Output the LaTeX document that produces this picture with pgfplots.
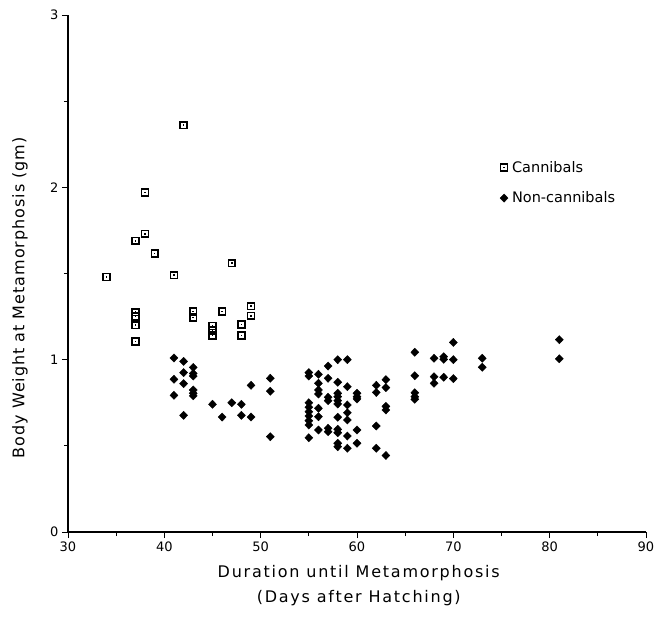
\documentclass[border=0pt]{standalone}
\usepackage{fontspec}
\setmainfont{DejaVu Sans}
\newfontfamily\labfont[LetterSpace=6]{DejaVu Sans}
\newfontfamily\xlabfont[LetterSpace=11]{DejaVu Sans}
\usepackage{pgfplots}
\pgfplotsset{compat=1.18}
\usepackage{pgfplotstable}

\pgfdeclareplotmark{sqdot}{%
  \pgfsetlinewidth{1.6pt}%
  \pgfpathrectangle{\pgfpoint{-\pgfplotmarksize}{-\pgfplotmarksize}}{\pgfpoint{2\pgfplotmarksize}{2\pgfplotmarksize}}%
  \pgfusepathqstroke
  \pgfpathrectangle{\pgfpoint{-0.8pt}{-0.8pt}}{\pgfpoint{1.6pt}{1.6pt}}%
  \pgfusepathqfill
}

\pgfplotstableread{
x y
42 2.36
38 1.97
38 1.73
37 1.69
39 1.615
34 1.48
41 1.49
47 1.56
49 1.31
49 1.255
37 1.275
37 1.25
43 1.28
43 1.245
46 1.28
37 1.20
45 1.195
45 1.17
45 1.14
48 1.205
48 1.14
37 1.105
}\cannibals

\pgfplotstableread{
x y
41 1.01
42 0.99
43 0.955
42 0.925
43 0.92
43 0.905
41 0.886
42 0.861
43 0.824
43 0.805
43 0.79
41 0.793
45 0.741
47 0.75
48 0.741
49 0.851
51 0.892
51 0.817
42 0.677
46 0.667
48 0.677
49 0.667
51 0.553
58 1.0
59 1.0
57 0.963
55 0.925
55 0.905
56 0.915
57 0.892
56 0.863
58 0.869
59 0.843
56 0.824
56 0.801
60 0.805
60 0.785
60 0.772
58 0.805
58 0.785
58 0.762
58 0.743
57 0.782
57 0.762
55 0.75
55 0.724
56 0.718
59 0.737
62 0.851
62 0.81
63 0.884
63 0.838
55 0.698
55 0.673
56 0.669
58 0.666
59 0.692
59 0.65
63 0.729
63 0.708
55 0.646
55 0.621
57 0.602
57 0.582
56 0.592
58 0.596
58 0.576
60 0.592
62 0.615
55 0.547
59 0.557
58 0.515
58 0.495
59 0.486
60 0.515
62 0.486
63 0.444
66 1.043
66 0.907
66 0.808
66 0.785
66 0.77
68 1.008
69 1.017
69 1.002
70 1.10
70 1.0
68 0.901
68 0.863
69 0.898
70 0.89
73 1.008
73 0.956
81 1.116
81 1.005
}\noncannibals

\begin{document}
\begin{tikzpicture}
\path[use as bounding box] (-68bp,-85bp) rectangle (598bp,532bp);
\begin{axis}[
  at={(0,0)}, anchor=south west,
  scale only axis,
  width=578bp, height=517bp,
  xmin=30, xmax=90, ymin=0, ymax=3,
  axis x line=bottom, axis y line=left,
  axis line style={line width=1.1pt, -},
  xtick={30,40,...,90}, ytick={0,1,2,3},
  minor x tick num=1, minor y tick num=1,
  tick align=outside,
  major tick length=6bp, minor tick length=4bp,
  tick style={line width=0.9pt, black},
  /pgf/number format/assume math mode=true,
  ticklabel style={font=\fontsize{13bp}{15bp}\selectfont},
  xlabel={Duration until Metamorphosis\\(Days after Hatching)},
  xlabel style={at={(axis description cs:0.503,0)}, anchor=north, yshift=-30bp,
    align=center, font=\xlabfont\fontsize{16bp}{25bp}\selectfont},
  ylabel={Body Weight at Metamorphosis (gm)},
  ylabel style={at={(axis description cs:-0.083,0.453)}, anchor=center, rotate=0,
    font=\labfont\fontsize{16bp}{19bp}\selectfont},
  legend style={draw=none, fill=none, at={(0.742,0.725)}, anchor=north west,
    font=\fontsize{14.5bp}{17bp}\selectfont, row sep=14bp,
    nodes={inner xsep=4bp}},
  legend cell align=left,
  clip=false,
]
\addplot[only marks, mark=sqdot, mark size=3.4bp, black] table[x=x,y=y] {\cannibals};
\addlegendentry{Cannibals}
\addplot[only marks, mark=diamond*, mark size=4.1bp, mark options={xscale=1.3}, black] table[x=x,y=y] {\noncannibals};
\addlegendentry{Non-cannibals}
\end{axis}
\end{tikzpicture}
\end{document}
